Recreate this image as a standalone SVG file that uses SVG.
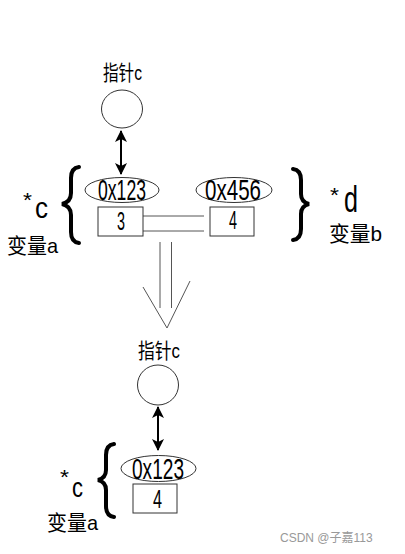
<svg xmlns="http://www.w3.org/2000/svg" width="405" height="554" viewBox="0 0 405 554">
<defs>
<style>
.t{font-family:"Liberation Sans Narrow","Liberation Sans",Arial,sans-serif;fill:#000}
.cjk{font-family:"Liberation Sans Narrow","Liberation Sans","Noto Sans CJK SC",sans-serif;fill:#000}
.shape{fill:#fff;stroke:#333;stroke-width:1}
.brace{fill:none;stroke:#000;stroke-width:4;stroke-linecap:round}
.thin{fill:none;stroke:#555;stroke-width:1}
.arr{stroke:#000;stroke-width:2;fill:none}
</style>
<marker id="ah" viewBox="0 0 12 16" refX="11" refY="8" markerWidth="12" markerHeight="16" markerUnits="userSpaceOnUse" orient="auto-start-reverse">
<path d="M0,2 L12,8 L0,14 L3,8 Z" fill="#000"/>
</marker>
</defs>
<rect width="405" height="554" fill="#fff"/>

<g id="connectors">
<line class="arr" x1="121" y1="131" x2="121" y2="174" marker-start="url(#ah)" marker-end="url(#ah)"/>
<line class="arr" x1="158" y1="407" x2="158" y2="450" marker-start="url(#ah)" marker-end="url(#ah)"/>
<line class="thin" x1="143" y1="216" x2="204" y2="216"/>
<line class="thin" x1="143" y1="231" x2="204" y2="231"/>
<line class="thin" x1="160" y1="242" x2="160" y2="308"/>
<line class="thin" x1="171.5" y1="242" x2="171.5" y2="308"/>
<polyline class="thin" points="143,287 167,328 190,281"/>
</g>

<g id="pointer-c-top">
<text class="cjk" x="103" y="80" font-size="21" textLength="39" lengthAdjust="spacingAndGlyphs">指针c</text>
<ellipse class="shape" cx="122" cy="109" rx="20.5" ry="19"/>
</g>

<g id="var-a-top">
<ellipse class="shape" cx="122" cy="190" rx="37" ry="12.5"/>
<text class="t" x="122" y="200" font-size="30" text-anchor="middle" textLength="48" lengthAdjust="spacingAndGlyphs">0x123</text>
<rect class="shape" x="98" y="207" width="45" height="29"/>
<text class="t" x="121" y="230" font-size="26" text-anchor="middle" textLength="8" lengthAdjust="spacingAndGlyphs">3</text>
<path class="brace" d="M79,167 Q71,168 71,178 L71,193 Q71,202 62,204 Q71,206 71,215 L71,232 Q71,242 79,243"/>
<text class="t" x="23" y="207" font-size="20" textLength="9" lengthAdjust="spacingAndGlyphs">*</text>
<text class="t" x="35" y="218" font-size="29" textLength="13" lengthAdjust="spacingAndGlyphs">c</text>
<text class="cjk" x="7" y="253" font-size="21" textLength="51" lengthAdjust="spacingAndGlyphs">变量a</text>
</g>

<g id="var-b">
<ellipse class="shape" cx="234" cy="190" rx="38" ry="12.5"/>
<text class="t" x="233" y="200" font-size="30" text-anchor="middle" textLength="56" lengthAdjust="spacingAndGlyphs">0x456</text>
<rect class="shape" x="210" y="207" width="44" height="29"/>
<text class="t" x="233" y="229" font-size="25" text-anchor="middle" textLength="8" lengthAdjust="spacingAndGlyphs">4</text>
<path class="brace" d="M293,169 Q301,170 301,180 L301,194 Q301,202 309,204 Q301,206 301,214 L301,229 Q301,239 293,240"/>
<text class="t" x="330" y="202" font-size="20" textLength="9" lengthAdjust="spacingAndGlyphs">*</text>
<text class="t" x="344" y="212" font-size="37" textLength="14" lengthAdjust="spacingAndGlyphs">d</text>
<text class="cjk" x="329" y="241" font-size="21" textLength="53" lengthAdjust="spacingAndGlyphs">变量b</text>
</g>

<g id="pointer-c-bottom">
<text class="cjk" x="138" y="358" font-size="21" textLength="42" lengthAdjust="spacingAndGlyphs">指针c</text>
<ellipse class="shape" cx="158" cy="385" rx="20.5" ry="20"/>
</g>

<g id="var-a-bottom">
<ellipse class="shape" cx="158.5" cy="468.5" rx="37.5" ry="13"/>
<text class="t" x="158" y="479" font-size="29" text-anchor="middle" textLength="52" lengthAdjust="spacingAndGlyphs">0x123</text>
<rect class="shape" x="133" y="484" width="44" height="29"/>
<text class="t" x="157.5" y="508" font-size="25" text-anchor="middle" textLength="9" lengthAdjust="spacingAndGlyphs">4</text>
<path class="brace" d="M114,444 Q106,445 106,455 L106,470 Q106,478 98,480 Q106,482 106,490 L106,506 Q106,516 114,517"/>
<text class="t" x="60" y="484" font-size="20" textLength="9" lengthAdjust="spacingAndGlyphs">*</text>
<text class="t" x="72" y="497" font-size="27" textLength="11" lengthAdjust="spacingAndGlyphs">c</text>
<text class="cjk" x="47" y="530" font-size="21" textLength="51" lengthAdjust="spacingAndGlyphs">变量a</text>
</g>

<text x="280" y="542" font-family="'Liberation Sans','Noto Sans CJK SC',sans-serif" font-size="12" fill="#999">CSDN @子嘉113</text>
</svg>
